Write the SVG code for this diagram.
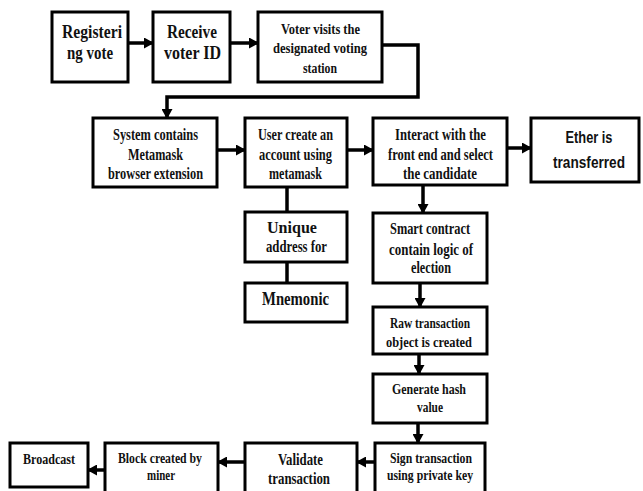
<svg xmlns="http://www.w3.org/2000/svg" width="643" height="491" viewBox="0 0 643 491">
<defs>
<style>
.box{fill:#fff;stroke:#000;stroke-width:3}
.t{font-family:"Liberation Serif","Times New Roman",serif;font-weight:bold;font-size:16px;fill:#111;text-anchor:middle}
.big{font-size:19px}
.sm{font-size:15px}
.sans{font-family:"Liberation Sans",Arial,sans-serif;font-size:17px}
.c{fill:none;stroke:#000;stroke-width:3.5}
</style>
<marker id="ah" markerUnits="userSpaceOnUse" markerWidth="10" markerHeight="11" refX="9" refY="5.5" orient="auto">
<path d="M0,0 L10,5.5 L0,11 z" fill="#000"/>
</marker>
</defs>
<rect width="643" height="491" fill="#fff"/>
<g id="connectors">
<line class="c" x1="128" y1="43" x2="153" y2="43" marker-end="url(#ah)"/>
<line class="c" x1="230" y1="43" x2="258" y2="43" marker-end="url(#ah)"/>
<polyline class="c" points="382,45 418,45 418,97 167,97 167,118" marker-end="url(#ah)"/>
<line class="c" x1="217" y1="150" x2="245" y2="150" marker-end="url(#ah)"/>
<line class="c" x1="347" y1="150" x2="373" y2="150" marker-end="url(#ah)"/>
<line class="c" x1="507" y1="148" x2="531" y2="148" marker-end="url(#ah)"/>
<line class="c" x1="423" y1="185" x2="423" y2="213" marker-end="url(#ah)"/>
<line class="c" x1="287" y1="187" x2="287" y2="212"/>
<line class="c" x1="287" y1="262" x2="287" y2="283"/>
<line class="c" x1="420" y1="283" x2="420" y2="307" marker-end="url(#ah)"/>
<line class="c" x1="419" y1="354" x2="419" y2="374" marker-end="url(#ah)"/>
<line class="c" x1="418" y1="423" x2="418" y2="443" marker-end="url(#ah)"/>
<line class="c" x1="375" y1="462" x2="357" y2="462" marker-end="url(#ah)"/>
<line class="c" x1="245" y1="462" x2="218" y2="462" marker-end="url(#ah)"/>
<line class="c" x1="105" y1="470" x2="88" y2="470" marker-end="url(#ah)"/>
</g>
<g id="n1"><rect class="box" x="52" y="12" width="76" height="70"/>
<text class="t big" x="92" y="38" textLength="60" lengthAdjust="spacingAndGlyphs">Registeri</text>
<text class="t big" x="90" y="59" textLength="46" lengthAdjust="spacingAndGlyphs">ng vote</text></g>
<g id="n2"><rect class="box" x="153" y="12" width="77" height="70"/>
<text class="t big" x="192" y="38" textLength="50" lengthAdjust="spacingAndGlyphs">Receive</text>
<text class="t big" x="192.5" y="59" textLength="57" lengthAdjust="spacingAndGlyphs">voter ID</text></g>
<g id="n3"><rect class="box" x="258" y="12" width="124" height="70"/>
<text class="t sm" x="320.5" y="34" textLength="79" lengthAdjust="spacingAndGlyphs">Voter visits the</text>
<text class="t sm" x="320" y="53" textLength="94" lengthAdjust="spacingAndGlyphs">designated voting</text>
<text class="t sm" x="320" y="73" textLength="34" lengthAdjust="spacingAndGlyphs">station</text></g>
<g id="n4"><rect class="box" x="93" y="118" width="124" height="69"/>
<text class="t" x="155.5" y="140" textLength="85" lengthAdjust="spacingAndGlyphs">System contains</text>
<text class="t" x="155.5" y="160" textLength="55" lengthAdjust="spacingAndGlyphs">Metamask</text>
<text class="t" x="155.5" y="179" textLength="95" lengthAdjust="spacingAndGlyphs">browser extension</text></g>
<g id="n5"><rect class="box" x="245" y="118" width="102" height="69"/>
<text class="t" x="295.5" y="140" textLength="75" lengthAdjust="spacingAndGlyphs">User create an</text>
<text class="t" x="295.5" y="160" textLength="73" lengthAdjust="spacingAndGlyphs">account using</text>
<text class="t" x="295.5" y="179" textLength="53" lengthAdjust="spacingAndGlyphs">metamask</text></g>
<g id="n6"><rect class="box" x="373" y="118" width="134" height="67"/>
<text class="t" x="440.5" y="140" textLength="91" lengthAdjust="spacingAndGlyphs">Interact with the</text>
<text class="t" x="440.5" y="160" textLength="105" lengthAdjust="spacingAndGlyphs">front end and select</text>
<text class="t" x="440" y="179" textLength="74" lengthAdjust="spacingAndGlyphs">the candidate</text></g>
<g id="n7"><rect class="box" x="531" y="118" width="108" height="64"/>
<text class="t sans" x="589" y="143" textLength="47" lengthAdjust="spacingAndGlyphs">Ether is</text>
<text class="t sans" x="589" y="168" textLength="72" lengthAdjust="spacingAndGlyphs">transferred</text></g>
<g id="n8"><rect class="box" x="245" y="212" width="102" height="50"/>
<text class="t" x="292" y="233" textLength="50" lengthAdjust="spacingAndGlyphs">Unique</text>
<text class="t" x="296.5" y="252" textLength="61" lengthAdjust="spacingAndGlyphs">address for</text></g>
<g id="n9"><rect class="box" x="245" y="283" width="102" height="39"/>
<text class="t big" x="295.5" y="305" textLength="67" lengthAdjust="spacingAndGlyphs">Mnemonic</text></g>
<g id="n10"><rect class="box" x="373" y="213" width="114" height="70"/>
<text class="t" x="430" y="234" textLength="80" lengthAdjust="spacingAndGlyphs">Smart contract</text>
<text class="t" x="431" y="255" textLength="84" lengthAdjust="spacingAndGlyphs">contain logic of</text>
<text class="t" x="431" y="273" textLength="40" lengthAdjust="spacingAndGlyphs">election</text></g>
<g id="n11"><rect class="box" x="373" y="307" width="114" height="47"/>
<text class="t sm" x="430" y="328" textLength="80" lengthAdjust="spacingAndGlyphs">Raw transaction</text>
<text class="t sm" x="429" y="347" textLength="86" lengthAdjust="spacingAndGlyphs">object is created</text></g>
<g id="n12"><rect class="box" x="373" y="374" width="114" height="49"/>
<text class="t sm" x="429" y="394" textLength="74" lengthAdjust="spacingAndGlyphs">Generate hash</text>
<text class="t sm" x="430" y="412" textLength="26" lengthAdjust="spacingAndGlyphs">value</text></g>
<g id="n13"><rect class="box" x="375" y="443" width="110" height="52"/>
<text class="t sm" x="431" y="463" textLength="82" lengthAdjust="spacingAndGlyphs">Sign transaction</text>
<text class="t sm" x="430" y="480" textLength="86" lengthAdjust="spacingAndGlyphs">using private key</text></g>
<g id="n14"><rect class="box" x="245" y="443" width="112" height="52"/>
<text class="t" x="300.5" y="465" textLength="45" lengthAdjust="spacingAndGlyphs">Validate</text>
<text class="t" x="299" y="484" textLength="62" lengthAdjust="spacingAndGlyphs">transaction</text></g>
<g id="n15"><rect class="box" x="105" y="443" width="113" height="52"/>
<text class="t sm" x="160" y="463" textLength="84" lengthAdjust="spacingAndGlyphs">Block created by</text>
<text class="t sm" x="161" y="480" textLength="28" lengthAdjust="spacingAndGlyphs">miner</text></g>
<g id="n16"><rect class="box" x="10" y="443" width="78" height="44"/>
<text class="t sm" x="49" y="464" textLength="52" lengthAdjust="spacingAndGlyphs">Broadcast</text></g>
</svg>
